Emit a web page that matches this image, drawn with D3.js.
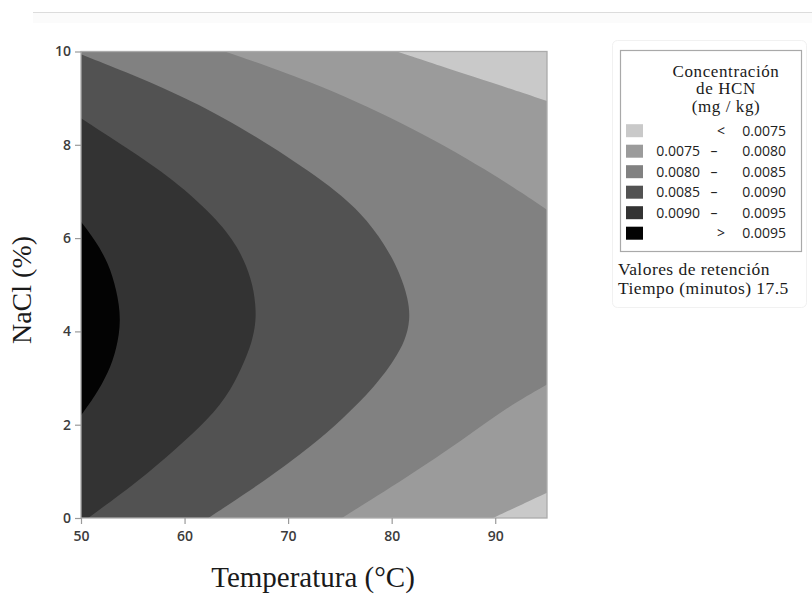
<!DOCTYPE html>
<html>
<head>
<meta charset="utf-8">
<script src="https://cdn.jsdelivr.net/npm/d3@7"></script>
<style>
  html, body { margin: 0; padding: 0; background: #ffffff; }
  svg { display: block; }
</style>
</head>
<body>
<svg id="chart" width="812" height="598"></svg>
<script>
// Contour levels of HCN (mg/kg)
const levels = [0.0075, 0.0080, 0.0085, 0.0090, 0.0095];

// Legend rows: [lower bound, symbol, upper bound]
const legendRows = [
  ["", "<", "0.0075"],
  ["0.0075", "–", "0.0080"],
  ["0.0080", "–", "0.0085"],
  ["0.0085", "–", "0.0090"],
  ["0.0090", "–", "0.0095"],
  ["", ">", "0.0095"]
];

// Axis ticks
const xTicks = [50, 60, 70, 80, 90];
const yTicks = [0, 2, 4, 6, 8, 10];

// Contour lines as [temperatura, NaCl] pieces; consecutive pieces are joined
// along the plot border and the outline is closed back to its first point.
const contour0075 = [
  [[80.5, 10], [87.9, 9.46], [95, 8.94]],
  [[95, 0.54], [92.2, 0.25], [89.8, 0]],
  [[50, 0]], [[50, 10]]
];
const contour0080 = [
  [[63.9, 10], [71.9, 9.39], [81.2, 8.47], [89.4, 7.44], [95, 6.61]],
  [[95, 2.86], [91.25, 2.39], [86.9, 1.68], [81.6, 0.89], [75.2, 0]],
  [[50, 0]], [[50, 10]]
];
const contour0085 = [
  [[50, 9.94], [54.25, 9.57], [59.1, 9.11], [64.9, 8.47], [73.4, 7.25], [77.1, 6.54],
   [79.4, 5.85], [80.8, 5.25], [81.6, 4.7], [81.8, 4.25], [81.3, 3.8], [80.3, 3.4],
   [78.4, 2.82], [75.2, 2.11], [72.3, 1.55], [67.9, 0.82], [62.3, 0]],
  [[50, 0]]
];
const contour0090 = [
  [[50, 8.57], [54.25, 7.96], [59.0, 7.25], [62.9, 6.46], [65.2, 5.82], [66.5, 5.11],
   [66.85, 4.6], [66.9, 4.25], [66.6, 3.85], [66.0, 3.46], [64.55, 2.75], [62.3, 2.11],
   [59.1, 1.47], [55.6, 0.8], [50.7, 0]],
  [[50, 0]]
];
const contour0095 = [
  [[50, 6.35], [51.35, 5.96], [52.64, 5.47], [53.44, 4.89], [53.9, 4.25], [53.44, 3.62],
   [52.64, 3.11], [51.35, 2.61], [50, 2.2]]
];
const contours = [contour0075, contour0080, contour0085, contour0090, contour0095];

// Fill shades, lowest band first
const shades = ["#c9c9c9", "#9b9b9b", "#818181", "#525252", "#333333", "#030303"];

const svg = d3.select("#chart");

// thin rule along the top of the page
svg.append("rect").attr("x", 33).attr("y", 13).attr("width", 779).attr("height", 10).attr("fill", "#fbfbfb");
svg.append("line").attr("x1", 33).attr("x2", 812).attr("y1", 12.5).attr("y2", 12.5)
  .attr("stroke", "#dcdcdc").attr("stroke-width", 1.2);

const x = d3.scaleLinear().domain([50, 95]).range([81, 547]);
const y = d3.scaleLinear().domain([0, 10]).range([518, 51.5]);

const plot = svg.append("g");
plot.append("clipPath").attr("id", "plotClip")
  .append("rect").attr("x", x(50)).attr("y", y(10))
  .attr("width", x(95) - x(50)).attr("height", y(0) - y(10));

const area = plot.append("g").attr("clip-path", "url(#plotClip)");
area.append("rect").attr("x", x(50)).attr("y", y(10))
  .attr("width", x(95) - x(50)).attr("height", y(0) - y(10))
  .attr("fill", shades[0]);

const curve = d3.line().x(d => x(d[0])).y(d => y(d[1])).curve(d3.curveBasis);

function outline(pieces) {
  let d = "";
  pieces.forEach((piece, i) => {
    let s = piece.length > 1 ? curve(piece) : `M${x(piece[0][0])},${y(piece[0][1])}`;
    if (i > 0) s = "L" + s.slice(1);
    d += s;
  });
  return d + "Z";
}

area.selectAll("path.band")
  .data(contours)
  .join("path")
  .attr("class", "band")
  .attr("d", outline)
  .attr("fill", (d, i) => shades[i + 1]);

// plot frame
plot.append("rect").attr("x", x(50)).attr("y", y(10))
  .attr("width", x(95) - x(50)).attr("height", y(0) - y(10))
  .attr("fill", "none").attr("stroke", "#ababab").attr("stroke-width", 1.3);

// axes
const tickFont = "'Open Sans', sans-serif";
const xAxis = svg.append("g").attr("transform", `translate(0,${y(0)})`)
  .call(d3.axisBottom(x).tickValues(xTicks).tickSize(6).tickPadding(4));
const yAxis = svg.append("g").attr("transform", `translate(${x(50)},0)`)
  .call(d3.axisLeft(y).tickValues(yTicks).tickSize(6).tickPadding(4));
[xAxis, yAxis].forEach(g => {
  g.select(".domain").remove();
  g.selectAll(".tick line").attr("stroke", "#9a9a9a").attr("stroke-width", 1.2);
  g.selectAll(".tick text").attr("fill", "#3c3c3c")
    .style("font-family", tickFont).style("font-size", "14px").style("font-weight", 600);
});
xAxis.selectAll(".tick text").attr("dy", "0.95em");

// axis titles
const serif = "'Liberation Serif', 'Times New Roman', serif";
svg.append("text").attr("x", 313).attr("y", 587).attr("text-anchor", "middle")
  .style("font-family", serif).style("font-size", "29px").attr("fill", "#1a1a1a")
  .text("Temperatura (°C)");
svg.append("text").attr("transform", "translate(31,290) rotate(-90)").attr("text-anchor", "middle")
  .style("font-family", serif).style("font-size", "28px").attr("fill", "#1a1a1a")
  .text("NaCl (%)");

// legend
const legend = svg.append("g");
legend.append("rect").attr("x", 612.5).attr("y", 40.5).attr("width", 194).attr("height", 267)
  .attr("rx", 5).attr("fill", "none").attr("stroke", "#f1f1f1");
legend.append("rect").attr("x", 620.5).attr("y", 50.5).attr("width", 181).attr("height", 201)
  .attr("fill", "#ffffff").attr("stroke", "#a9a9a9").attr("stroke-width", 1.2);

["Concentración", "de HCN", "(mg / kg)"].forEach((t, i) => {
  legend.append("text").attr("x", 726).attr("y", 76.5 + i * 17.6).attr("text-anchor", "middle")
    .style("font-family", serif).style("font-size", "17px").style("letter-spacing", "0.6px")
    .attr("fill", "#1a1a1a").text(t);
});

const rows = legend.selectAll("g.row").data(legendRows).join("g")
  .attr("class", "row")
  .attr("transform", (d, i) => `translate(0,${130.7 + i * 20.5})`);
rows.append("rect").attr("x", 626).attr("y", -6.5).attr("width", 17).attr("height", 13)
  .attr("fill", (d, i) => shades[i]);
const sans = "'Open Sans', sans-serif";
rows.append("text").attr("x", 700).attr("dy", "0.35em").attr("text-anchor", "end")
  .style("font-family", sans).style("font-size", "14px").attr("fill", "#222").text(d => d[0]);
rows.append("text").attr("x", d => d[1] === "–" ? 714 : 721).attr("dy", "0.35em").attr("text-anchor", "middle")
  .style("font-family", sans).style("font-size", "14px").attr("fill", "#222").text(d => d[1]);
rows.append("text").attr("x", 786).attr("dy", "0.35em").attr("text-anchor", "end")
  .style("font-family", sans).style("font-size", "14px").attr("fill", "#222").text(d => d[2]);

legend.append("text").attr("x", 618).attr("y", 275)
  .style("font-family", serif).style("font-size", "17.5px").style("letter-spacing", "0.45px")
  .attr("fill", "#1a1a1a").text("Valores de retención");
legend.append("text").attr("x", 618).attr("y", 293.5)
  .style("font-family", serif).style("font-size", "17.5px").style("letter-spacing", "0.45px")
  .attr("fill", "#1a1a1a").text("Tiempo (minutos) 17.5");
</script>
</body>
</html>
